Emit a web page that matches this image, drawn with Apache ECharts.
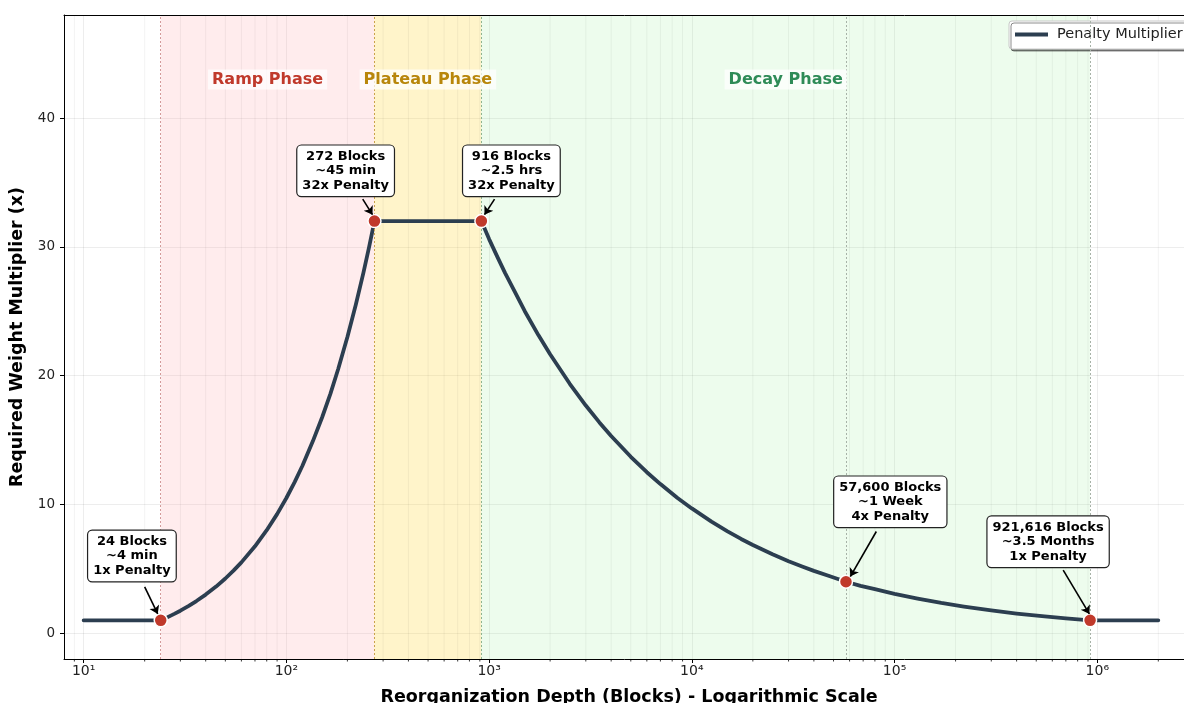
<!DOCTYPE html>
<html>
<head>
<meta charset="utf-8">
<script src="https://cdn.jsdelivr.net/npm/echarts@6/dist/echarts.min.js"></script>
<style>
  html, body { margin: 0; padding: 0; background: #fff; }
  #chart { width: 1184px; height: 703px; }
</style>
</head>
<body>
<div id="chart"></div>
<script>
// curve: depth in blocks -> required multiplier
const depthBlocks = [10, 24, 26, 28, 30, 33, 36, 40, 45, 50, 55, 60, 70, 80, 90, 100, 110, 120, 135,
  150, 165, 180, 200, 220, 240, 256, 272,
  916, 1000, 1100, 1200, 1350, 1500, 1750, 2000, 2500, 3000, 3500, 4000, 5000, 6000, 7000, 8500,
  10000, 12500, 15000, 17500, 20000, 25000, 30000, 35000, 40000, 48000, 57600, 68000, 80000,
  100000, 130000, 170000, 220000, 300000, 400000, 550000, 700000, 921616, 2000000]
const multiplier = [1, 1, 1.25, 1.5, 1.75, 2.12, 2.5, 3.0, 3.62, 4.25, 4.88, 5.5, 6.75, 8.0, 9.25, 10.5, 11.75, 13.0, 14.9,
  16.75, 18.6, 20.5, 23.0, 25.5, 28.0, 30.0, 32,
  32, 30.6, 29.2, 27.96, 26.4, 25.0, 23.15, 21.66, 19.37, 17.68, 16.37, 15.31, 13.7, 12.5, 11.58, 10.5,
  9.69, 8.66, 7.91, 7.32, 6.85, 6.13, 5.59, 5.18, 4.84, 4.42, 4.0, 3.68, 3.42,
  3.06, 2.69, 2.35, 2.07, 1.77, 1.53, 1.31, 1.16, 1, 1]

const keyDepths = [24, 272, 916, 57600, 921616]
const keyValues = [1, 32, 32, 4, 1]
const keyTexts = [
  '24 Blocks\n~4 min\n1x Penalty',
  '272 Blocks\n~45 min\n32x Penalty',
  '916 Blocks\n~2.5 hrs\n32x Penalty',
  '57,600 Blocks\n~1 Week\n4x Penalty',
  '921,616 Blocks\n~3.5 Months\n1x Penalty',
]
// where each annotation box sits, and where its arrow starts / stops
const boxAt = [[17.3, 6.0], [196, 35.9], [1288, 35.9], [95300, 10.2], [572000, 7.1]]
const arrowFrom = [[20.0, 3.6], [238, 33.7], [1064, 33.7], [81300, 7.9], [679000, 4.9]]
const arrowTo = [[23.2, 1.5], [266, 32.5], [949, 32.5], [60500, 4.4], [914000, 1.5]]

const phaseNames = ['Ramp Phase', 'Plateau Phase', 'Decay Phase']
const phaseStart = [24, 272, 916]
const phaseEnd = [272, 916, 921616]
const phaseLabelAt = [[80.8, 43], [499, 43], [29055, 43]]
const phaseText = ['#c0392b', '#b8860b', '#2e8b57']
const phaseFill = ['rgba(255,170,175,0.22)', 'rgba(255,220,80,0.30)', 'rgba(150,240,150,0.17)']

const markerLines = [24, 272, 916, 57600, 921616]
const markerLineColors = ['#d49a9a', '#c9a24a', '#8fb58f', '#a7b2a7', '#a7b2a7']

const minorTicks = [9, 20, 30, 40, 50, 60, 70, 80, 90, 200, 300, 400, 500, 600, 700, 800, 900,
  2000, 3000, 4000, 5000, 6000, 7000, 8000, 9000, 20000, 30000, 40000, 50000, 60000, 70000, 80000, 90000,
  200000, 300000, 400000, 500000, 600000, 700000, 800000, 900000, 2000000]

const yTicks = [0, 10, 20, 30, 40]
const xMin = 8, xMax = 3000000, yMin = -2, yMax = 48

const sup = { '0': '⁰', '1': '¹', '2': '²', '3': '³', '4': '⁴', '5': '⁵', '6': '⁶', '7': '⁷' }
const font = 'DejaVu Sans'

const chart = echarts.init(document.getElementById('chart'), null, { renderer: 'canvas' })

const spine = (position) => ({
  type: 'value', gridIndex: 0, position, min: 0, max: 1, z: 10,
  axisLine: { show: true, onZero: false, lineStyle: { color: '#000', width: 1 } },
  axisTick: { show: false }, axisLabel: { show: false }, splitLine: { show: false },
})

chart.setOption({
  animation: false,
  backgroundColor: '#fff',
  textStyle: { fontFamily: font },
  grid: { left: 64, top: 15, width: 1130, height: 644, outerBoundsMode: 'none', containLabel: false },
  legend: {
    data: ['Penalty Multiplier'],
    left: 1009, top: 21,
    icon: 'rect', itemWidth: 33, itemHeight: 4,
    padding: [6, 10, 7, 6],
    backgroundColor: '#fff', borderColor: '#c8c8c8', borderWidth: 1, borderRadius: 3,
    shadowColor: 'rgba(0,0,0,0.45)', shadowOffsetX: 2, shadowOffsetY: 2, shadowBlur: 0,
    textStyle: { fontFamily: font, fontSize: 14.5, color: '#222', padding: [0, 0, 0, 4] },
  },
  xAxis: [
    {
      type: 'log', logBase: 10, min: xMin, max: xMax,
      name: 'Reorganization Depth (Blocks) - Logarithmic Scale',
      nameLocation: 'middle', nameGap: 29,
      nameTextStyle: { fontFamily: font, fontSize: 17.5, fontWeight: 'bold', color: '#000' },
      axisLine: { show: false, onZero: false },
      axisTick: { show: true, length: 4, lineStyle: { color: '#000' } },
      axisLabel: {
        fontSize: 14, color: '#222', margin: 5, showMinLabel: false, showMaxLabel: false,
        formatter: (v) => {
          const p = String(Math.round(Math.log10(v)))
          return '10' + p.split('').map((c) => sup[c]).join('')
        },
      },
      splitLine: { show: true, lineStyle: { color: 'rgba(0,0,0,0.07)', width: 1 } },
    },
    spine('top'),
    spine('bottom'),
  ],
  yAxis: {
    type: 'value', min: yMin, max: yMax,
    name: 'Required Weight Multiplier (x)',
    nameLocation: 'middle', nameGap: 33,
    nameTextStyle: { fontFamily: font, fontSize: 17.5, fontWeight: 'bold', color: '#000' },
    axisLine: { show: true, onZero: false, lineStyle: { color: '#000', width: 1 } },
    axisTick: { show: true, length: 4, customValues: yTicks, lineStyle: { color: '#000' } },
    axisLabel: { fontSize: 13.5, color: '#222', margin: 9, customValues: yTicks },
    splitLine: { show: true, lineStyle: { color: 'rgba(0,0,0,0.07)', width: 1 } },
  },
  series: [
    {
      // minor log ticks and their faint grid lines
      type: 'custom',
      xAxisIndex: 0,
      clip: false,
      silent: true,
      z: 1,
      data: minorTicks.map((v) => [v, 0]),
      renderItem: (params, api) => {
        const x = api.value(0)
        const top = api.coord([x, yMax])
        const bot = api.coord([x, yMin])
        return {
          type: 'group',
          children: [
            { type: 'line', shape: { x1: bot[0], y1: top[1], x2: bot[0], y2: bot[1] },
              style: { stroke: 'rgba(0,0,0,0.05)', lineWidth: 1 } },
            { type: 'line', shape: { x1: bot[0], y1: bot[1], x2: bot[0], y2: bot[1] + 2.5 },
              style: { stroke: '#000', lineWidth: 0.8 } },
          ],
        }
      },
    },
    {
      name: 'Penalty Multiplier',
      type: 'line',
      xAxisIndex: 0,
      data: depthBlocks.map((d, i) => [d, multiplier[i]]),
      showSymbol: false,
      color: '#2c3e50',
      lineStyle: { color: '#2c3e50', width: 3.8, cap: 'round', join: 'round' },
      z: 3,
      markArea: {
        silent: true,
        data: phaseNames.map((n, i) => [
          { xAxis: phaseStart[i], itemStyle: { color: phaseFill[i] } },
          { xAxis: phaseEnd[i] },
        ]),
      },
    },
    {
      type: 'scatter',
      xAxisIndex: 0,
      data: keyDepths.map((d, i) => [d, keyValues[i]]),
      symbolSize: 13,
      itemStyle: { color: '#c0392b', borderColor: '#fff', borderWidth: 1.5, opacity: 1 },
      z: 5,
      markLine: {
        silent: true,
        symbol: ['none', 'none'],
        label: { show: false },
        data: markerLines.map((x, i) => ({
          xAxis: x, lineStyle: { color: markerLineColors[i], type: [2, 2], width: 1 },
        })),
      },
    },
    {
      // phase titles
      type: 'scatter',
      xAxisIndex: 0,
      symbolSize: 0,
      silent: true,
      z: 6,
      itemStyle: { opacity: 1 },
      data: phaseNames.map((n, i) => ({
        value: phaseLabelAt[i],
        label: {
          show: true, position: 'inside', formatter: n,
          fontFamily: font, fontSize: 16, fontWeight: 'bold', color: phaseText[i],
          backgroundColor: 'rgba(255,255,255,0.7)', padding: [3, 4, 1, 4],
        },
      })),
    },
    {
      // annotation arrows
      type: 'lines',
      coordinateSystem: 'cartesian2d',
      xAxisIndex: 0,
      silent: true,
      z: 6,
      symbol: ['none', 'arrow'],
      symbolSize: 8,
      lineStyle: { color: '#000', width: 1.6, opacity: 1, curveness: 0 },
      data: arrowFrom.map((p, i) => ({ coords: [p, arrowTo[i]] })),
    },
    {
      // annotation boxes
      type: 'scatter',
      xAxisIndex: 0,
      symbolSize: 0,
      silent: true,
      z: 7,
      itemStyle: { opacity: 1 },
      data: boxAt.map((p, i) => ({
        value: p,
        label: {
          show: true, position: 'inside', formatter: keyTexts[i], align: 'center',
          fontFamily: font, fontSize: 13, fontWeight: 'bold', color: '#000', lineHeight: 14.5,
          backgroundColor: '#fff', borderColor: '#222', borderWidth: 1.2, borderRadius: 4,
          padding: [4, 5, 3, 5],
        },
      })),
    },
  ],
})
</script>
</body>
</html>
